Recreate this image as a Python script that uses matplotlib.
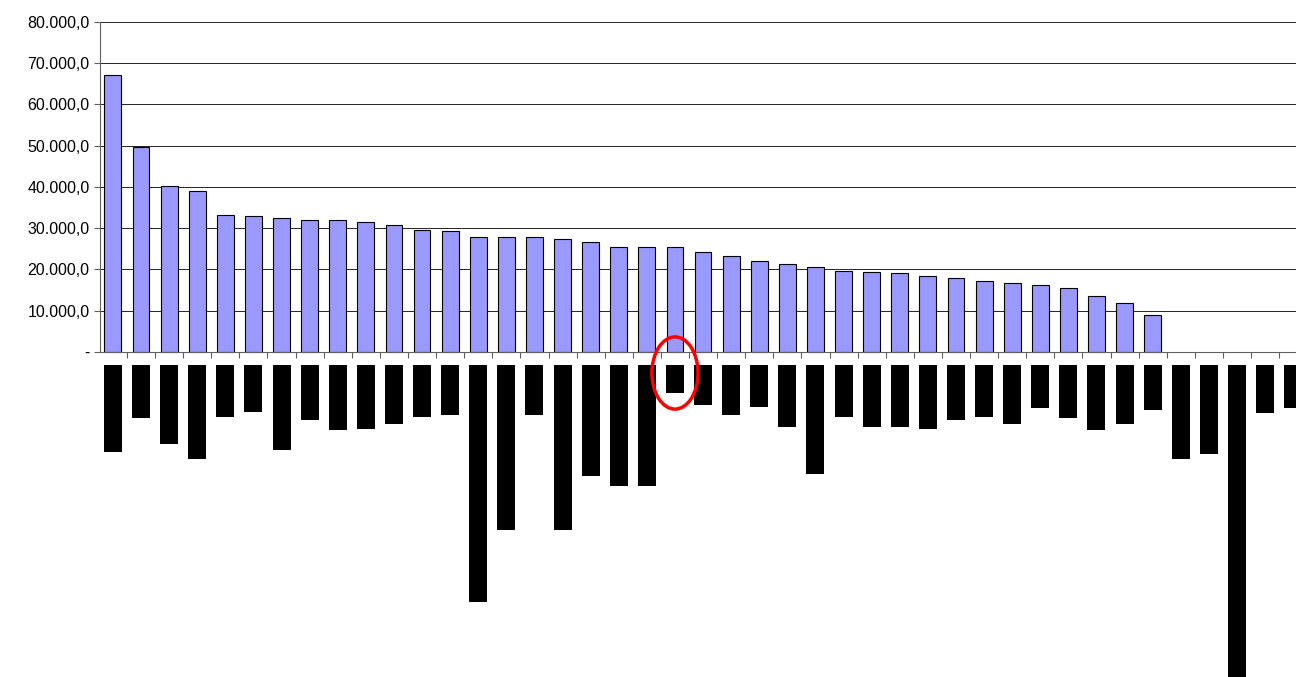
import numpy as np
import matplotlib.pyplot as plt
from matplotlib.patches import Ellipse

plt.rcParams['font.family'] = ['Liberation Sans', 'DejaVu Sans']

# upper series (blue bars)
values = [67200, 49600, 40300, 39100, 33300, 32900, 32400, 32100, 32000, 31600,
          30800, 29500, 29400, 27900, 27900, 27800, 27400, 26600, 25500, 25400,
          25500, 24200, 23300, 22100, 21400, 20500, 19700, 19300, 19200, 18500,
          18000, 17200, 16800, 16200, 15600, 13600, 11900, 9000]
# lower black blocks (depth below the axis)
depths = [21100, 12800, 19200, 22800, 12600, 11400, 20600, 13300, 15800, 15500,
          14300, 12600, 12100, 57500, 40000, 12100, 40000, 26900, 29300, 29300,
          6800, 9700, 12100, 10200, 15000, 26400, 12600, 15000, 15000, 15500,
          13300, 12600, 14300, 10400, 12800, 15800, 14300, 10900, 22800, 21600,
          75700, 11600, 10400]
yticks = [0, 10000, 20000, 30000, 40000, 50000, 60000, 70000, 80000]
ytick_labels = ['-', '10.000,0', '20.000,0', '30.000,0', '40.000,0',
                '50.000,0', '60.000,0', '70.000,0', '80.000,0']
highlight = 20
gap = 3150

fig = plt.figure(figsize=(12.96, 6.77), dpi=100, facecolor='w')
ax = fig.add_axes([100 / 1296, 0, 1 - 100 / 1296, 1 - 22 / 677])

for y in yticks[1:]:
    ax.axhline(y, color='black', lw=0.6, zorder=0)
ax.axhline(0, color='#606060', lw=0.8, zorder=3)

ax.bar(np.arange(len(values)), values, width=0.6, color='#9999ff',
       edgecolor='black', linewidth=0.8, zorder=2)
ax.bar(np.arange(len(depths)), [-d for d in depths], bottom=-gap, width=0.64,
       color='black', zorder=2)

ax.add_patch(Ellipse((highlight, -5100), 1.64, 17500, fill=False,
                     edgecolor='red', lw=2.5, zorder=4, clip_on=False))

ax.set_xlim(-0.46, 42.1)
ax.set_ylim(-78800, 80000)
ax.set_yticks(yticks)
ax.set_yticklabels(ytick_labels, fontsize=11.5)
ax.set_xticks(np.arange(0.5, 42, 1))
ax.set_xticklabels([])
ax.tick_params(axis='x', direction='out', length=4, color='#606060', pad=0)
ax.tick_params(axis='y', length=4, color='#606060')
for s in ['top', 'right', 'bottom']:
    ax.spines[s].set_visible(False)
ax.spines['left'].set_bounds(0, 80000)
ax.spines['left'].set_color('#606060')
ax.spines['bottom'].set_position(('data', 0))

fig.savefig('out.png', dpi=100)
